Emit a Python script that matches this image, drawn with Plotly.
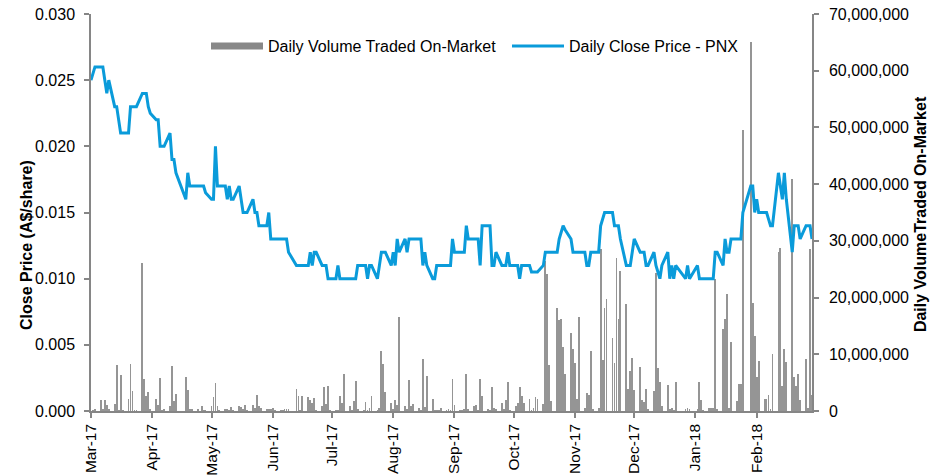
import plotly.graph_objects as go

# ---------------- data ----------------
# trading days per month, daily close price (A$/share), daily volume (millions of shares)
mar17_days = [1, 2, 3, 6, 7, 8, 9, 10, 13, 14, 15, 16, 17, 20, 21, 22, 23, 24, 27, 28, 29, 30, 31]
mar17_price = [0.025, 0.0255, 0.026, 0.026, 0.026, 0.025, 0.024, 0.025, 0.023, 0.023, 0.022, 0.021,
               0.021, 0.021, 0.023, 0.023, 0.023, 0.023, 0.024, 0.024, 0.024, 0.023, 0.0225]
mar17_vol_m = [0.0, 0.1, 0.2, 2.0, 0.35, 2.0, 1.1, 0.3, 1.2, 8.1, 0.1, 6.3, 0.1, 2.2, 8.3, 3.5,
               0.1, 0.1, 26.1, 5.6, 2.6, 3.4, 0.35]

apr17_days = [3, 4, 5, 6, 7, 10, 11, 12, 13, 18, 19, 20, 21, 24, 26, 27, 28]
apr17_price = [0.022, 0.022, 0.020, 0.020, 0.020, 0.021, 0.019, 0.019, 0.018, 0.016, 0.018, 0.017,
               0.017, 0.017, 0.017, 0.017, 0.0165]
apr17_vol_m = [2.2, 1.1, 5.8, 0.1, 0.3, 0.9, 7.9, 1.76, 3.0, 6.05, 3.7, 0.3, 0.4, 0.3, 0.9, 0.1, 0.1]

may17_days = [1, 2, 3, 4, 5, 8, 9, 10, 11, 12, 15, 16, 17, 18, 19, 22, 23, 24, 25, 26, 29, 30, 31]
may17_price = [0.016, 0.016, 0.020, 0.017, 0.017, 0.017, 0.016, 0.017, 0.016, 0.016, 0.017, 0.016,
               0.015, 0.015, 0.015, 0.016, 0.015, 0.015, 0.014, 0.014, 0.014, 0.015, 0.013]
may17_vol_m = [0.94, 2.4, 4.9, 0.9, 0.1, 0.2, 0.2, 0.1, 0.7, 0.1, 0.9, 0.7, 0.3, 1.06, 0.1, 1.1,
               0.6, 2.8, 0.94, 0.5, 0.2, 0.2, 0.4]

jun17_days = [1, 2, 5, 6, 7, 8, 9, 13, 14, 15, 16, 19, 20, 21, 22, 23, 26, 27, 28, 29, 30]
jun17_price = [0.013, 0.013, 0.013, 0.013, 0.013, 0.013, 0.012, 0.011, 0.011, 0.011, 0.011, 0.011,
               0.012, 0.011, 0.012, 0.012, 0.011, 0.011, 0.011, 0.010, 0.010]
jun17_vol_m = [0.5, 0.1, 0.05, 0.05, 0.2, 0.2, 0.2, 3.9, 2.6, 0.1, 2.6, 2.5, 1.9, 1.4, 2.35, 0.1,
               0.9, 4.2, 1.2, 4.4, 0.1]

jul17_days = [3, 4, 5, 6, 7, 10, 11, 12, 13, 14, 17, 18, 19, 20, 21, 24, 25, 26, 27, 28, 31]
jul17_price = [0.010, 0.011, 0.010, 0.010, 0.010, 0.010, 0.010, 0.010, 0.010, 0.011, 0.011, 0.011,
               0.010, 0.011, 0.011, 0.010, 0.011, 0.012, 0.012, 0.012, 0.011]
jul17_vol_m = [0.1, 0.1, 2.6, 1.4, 6.5, 0.8, 0.1, 1.7, 5.3, 0.2, 0.1, 1.5, 0.1, 0.5, 2.6, 0.1,
               0.5, 10.5, 8.3, 3.3, 1.4]

aug17_days = [1, 2, 3, 4, 7, 8, 9, 10, 11, 14, 15, 16, 17, 18, 21, 22, 23, 24, 25, 28, 29, 30, 31]
aug17_price = [0.012, 0.011, 0.013, 0.012, 0.013, 0.012, 0.013, 0.013, 0.013, 0.013, 0.013, 0.011,
               0.012, 0.011, 0.010, 0.010, 0.011, 0.011, 0.011, 0.011, 0.011, 0.011, 0.013]
aug17_vol_m = [0.4, 1.9, 1.06, 16.5, 0.8, 0.4, 5.4, 0.9, 1.2, 0.5, 0.1, 9.2, 0.7, 6.2, 2.1, 0.1,
               0.1, 0.1, 0.6, 0.1, 0.3, 0.1, 5.6]

sep17_days = [1, 4, 5, 6, 7, 8, 11, 12, 13, 14, 15, 18, 19, 20, 21, 22, 25, 26, 27, 28, 29]
sep17_price = [0.012, 0.012, 0.012, 0.012, 0.014, 0.013, 0.013, 0.013, 0.013, 0.011, 0.014, 0.014,
               0.014, 0.011, 0.011, 0.012, 0.011, 0.011, 0.011, 0.012, 0.011]
sep17_vol_m = [1.0, 0.1, 0.1, 0.3, 6.5, 0.2, 0.8, 1.0, 0.1, 5.6, 2.6, 0.3, 0.1, 4.2, 0.5, 0.4,
               1.4, 0.3, 2.0, 5.2, 0.1]

oct17_days = [2, 3, 4, 5, 6, 9, 10, 11, 12, 13, 16, 17, 18, 19, 20, 23, 24, 25, 26, 27, 30, 31]
oct17_price = [0.011, 0.011, 0.010, 0.011, 0.011, 0.011, 0.0105, 0.0105, 0.0105, 0.0105, 0.011,
               0.012, 0.012, 0.012, 0.012, 0.012, 0.013, 0.0135, 0.014, 0.0137, 0.013, 0.012]
oct17_vol_m = [0.8, 1.4, 4.2, 2.7, 1.4, 2.1, 0.1, 0.5, 2.4, 2.2, 1.2, 26.5, 24.1, 8.1, 1.8, 18.2,
               16.0, 16.2, 11.3, 6.5, 13.8, 11.0]

nov17_days = [1, 2, 3, 6, 7, 8, 9, 10, 13, 14, 15, 16, 17, 20, 21, 22, 23, 24, 27, 28, 29, 30]
nov17_price = [0.012, 0.012, 0.012, 0.012, 0.011, 0.011, 0.012, 0.012, 0.012, 0.014, 0.0145,
               0.015, 0.015, 0.015, 0.014, 0.014, 0.014, 0.013, 0.011, 0.011, 0.011, 0.012]
nov17_vol_m = [8.5, 2.2, 16.6, 0.5, 3.2, 2.8, 10.6, 0.3, 0.5, 28.5, 9.0, 18.1, 19.7, 12.9, 8.5,
               27.0, 16.2, 24.7, 18.8, 3.9, 7.1, 9.4]

dec17_days = [1, 4, 5, 6, 7, 8, 11, 12, 13, 14, 15, 18, 19, 20, 21, 22, 27, 28, 29]
dec17_price = [0.013, 0.012, 0.012, 0.012, 0.011, 0.011, 0.012, 0.011, 0.0105, 0.010, 0.011,
               0.012, 0.010, 0.011, 0.010, 0.011, 0.010, 0.011, 0.010]
dec17_vol_m = [3.7, 7.8, 2.0, 1.5, 3.9, 0.2, 3.6, 24.4, 7.5, 5.2, 0.8, 4.5, 0.3, 0.6, 0.1, 5.2,
               0.3, 0.5, 0.4]

jan18_days = [2, 3, 4, 5, 8, 9, 10, 11, 12, 15, 16, 17, 18, 19, 22, 23, 24, 25, 29, 30, 31]
jan18_price = [0.011, 0.010, 0.010, 0.010, 0.010, 0.010, 0.010, 0.012, 0.012, 0.011, 0.013, 0.012,
               0.012, 0.013, 0.013, 0.013, 0.013, 0.015, 0.017, 0.017, 0.015]
jan18_vol_m = [0.3, 5.2, 2.0, 0.1, 0.5, 0.5, 0.5, 23.3, 0.2, 14.5, 16.3, 20.7, 0.5, 12.1, 1.8, 4.7,
               4.7, 49.5, 65.0, 19.1, 13.2]

feb18_days = [1, 2, 5, 6, 7, 8, 9, 12, 13, 14, 15, 16, 19, 20, 21, 22, 23, 26, 27, 28]
feb18_price = [0.016, 0.015, 0.015, 0.015, 0.0145, 0.014, 0.014, 0.018, 0.017, 0.016, 0.018, 0.016,
               0.012, 0.014, 0.014, 0.014, 0.013, 0.014, 0.014, 0.014]
feb18_vol_m = [6.0, 8.8, 2.2, 2.2, 2.8, 0.3, 10.0, 28.0, 28.8, 4.4, 10.9, 8.6, 40.9, 6.0, 4.4, 6.6,
               1.9, 9.2, 0.5, 28.5]

mar18_days = [1]
mar18_price = [0.013]
mar18_vol_m = [2.8]

month_starts = ["2017-03-01", "2017-04-01", "2017-05-01", "2017-06-01", "2017-07-01", "2017-08-01",
                "2017-09-01", "2017-10-01", "2017-11-01", "2017-12-01", "2018-01-01", "2018-02-01"]
month_labels = ["Mar-17", "Apr-17", "May-17", "Jun-17", "Jul-17", "Aug-17",
                "Sep-17", "Oct-17", "Nov-17", "Dec-17", "Jan-18", "Feb-18"]

price_ticks = [0.000, 0.005, 0.010, 0.015, 0.020, 0.025, 0.030]
volume_ticks = [0, 10e6, 20e6, 30e6, 40e6, 50e6, 60e6, 70e6]

# ---------------- assemble ----------------
months = [
    (2017, 3, mar17_days, mar17_price, mar17_vol_m),
    (2017, 4, apr17_days, apr17_price, apr17_vol_m),
    (2017, 5, may17_days, may17_price, may17_vol_m),
    (2017, 6, jun17_days, jun17_price, jun17_vol_m),
    (2017, 7, jul17_days, jul17_price, jul17_vol_m),
    (2017, 8, aug17_days, aug17_price, aug17_vol_m),
    (2017, 9, sep17_days, sep17_price, sep17_vol_m),
    (2017, 10, oct17_days, oct17_price, oct17_vol_m),
    (2017, 11, nov17_days, nov17_price, nov17_vol_m),
    (2017, 12, dec17_days, dec17_price, dec17_vol_m),
    (2018, 1, jan18_days, jan18_price, jan18_vol_m),
    (2018, 2, feb18_days, feb18_price, feb18_vol_m),
    (2018, 3, mar18_days, mar18_price, mar18_vol_m),
]
dates, price, volume = [], [], []
for yr, mo, days, pr, vo in months:
    for d, p, v in zip(days, pr, vo):
        dates.append(f"{yr}-{mo:02d}-{d:02d}")
        price.append(p)
        volume.append(v * 1e6)

FONT = "Liberation Sans, Arial, sans-serif"
AXIS_GREY = "#868686"
BAR_GREY = "#959595"
BLUE = "#0A9BDA"

fig = go.Figure()
# legend entry for the volume series (wide grey bar look)
fig.add_trace(go.Scatter(x=[None], y=[None], mode="lines", name="Daily Volume Traded On-Market",
                         line=dict(color="#888888", width=7), yaxis="y", hoverinfo="skip"))
fig.add_trace(go.Bar(x=dates, y=volume, name="Daily Volume Traded On-Market", showlegend=False,
                     marker=dict(color=BAR_GREY, line=dict(width=0)),
                     width=0.42 * 86400000, yaxis="y"))
fig.add_trace(go.Scatter(x=dates, y=price, mode="lines", name="Daily Close Price - PNX",
                         line=dict(color=BLUE, width=3), yaxis="y2"))

axis_common = dict(showgrid=False, zeroline=False, showline=True, linecolor=AXIS_GREY,
                   linewidth=1.5, ticks="outside", ticklen=5, tickcolor=AXIS_GREY, tickwidth=1.5)
tick_font = dict(size=16, family=FONT, color="#000000")

fig.update_layout(
    width=940, height=476,
    margin=dict(l=91, r=128, t=14, b=65, autoexpand=False),
    paper_bgcolor="white", plot_bgcolor="white",
    font=dict(family=FONT, size=16, color="#000000"),
    bargap=0,
    showlegend=True,
    legend=dict(orientation="h", x=0.1595, y=0.919, xanchor="left", yanchor="middle",
                bgcolor="rgba(0,0,0,0)", font=dict(size=16, family=FONT), itemwidth=52,
                entrywidth=234, entrywidthmode="pixels", traceorder="normal"),
    xaxis=dict(type="date", range=["2017-03-01", "2018-03-01"],
               tickmode="array", tickvals=month_starts, ticktext=month_labels, tickangle=-90,
               ticklabelstandoff=0, tickfont=dict(size=15.5, family=FONT, color="#000000"),
               **axis_common),
    yaxis=dict(side="right", range=[0, 70e6], tickmode="array", tickvals=volume_ticks,
               tickformat=",d", ticklabelstandoff=7, tickfont=tick_font, **axis_common),
    yaxis2=dict(overlaying="y", side="left", range=[0, 0.030], tickmode="array",
                tickvals=price_ticks, tickformat=".3f", ticklabelstandoff=6, tickfont=tick_font,
                **axis_common),
    annotations=[
        dict(text="<b>Close Price (A$/share)</b>", xref="paper", yref="paper",
             x=-0.0902, y=0.418, xanchor="center", yanchor="middle", textangle=-90,
             showarrow=False, font=dict(size=16, family=FONT, color="#000000")),
        dict(text="<b>Daily VolumeTraded On-Market</b>", xref="paper", yref="paper",
             x=1.1498, y=0.496, xanchor="center", yanchor="middle", textangle=-90,
             showarrow=False, font=dict(size=16, family=FONT, color="#000000")),
    ],
)

fig.write_html("out.html", config={"displayModeBar": False},
               post_script="document.body.style.margin='0px';document.body.style.overflow='hidden';")
